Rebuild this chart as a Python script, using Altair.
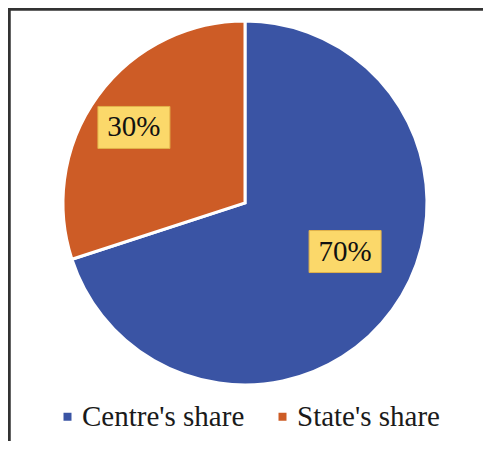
import altair as alt
import pandas as pd
import math

# ---- data ----
categories = ["Centre's share", "State's share"]
values = [70, 30]
labels = ["70%", "30%"]
colors = ["#3A54A4", "#CD5C26"]

# ---- layout / style constants (pixels, view coordinates) ----
W, H = 475, 433
CX, CY = 237, 195
R = 182
LABEL_R = 120
NUDGE = {"Centre's share": (3, -22), "State's share": (-14, -5)}
BOX_HW, BOX_HH = 36, 21
FONT = "Liberation Serif"

df = pd.DataFrame({
    "category": categories,
    "value": values,
    "label": labels,
    "order": list(range(len(categories))),
})
total = sum(values)
cum = 0
mids = []
for v in values:
    mids.append((cum + v / 2) / total * 2 * math.pi)
    cum += v
df["lx"] = [CX + LABEL_R * math.sin(m) + NUDGE[c][0] for m, c in zip(mids, categories)]
df["ly"] = [CY - LABEL_R * math.cos(m) + NUDGE[c][1] for m, c in zip(mids, categories)]
df["x0"] = df["lx"] - BOX_HW
df["x1"] = df["lx"] + BOX_HW
df["y0"] = df["ly"] - BOX_HH
df["y1"] = df["ly"] + BOX_HH

xs = alt.Scale(domain=[0, W], range=[0, W], nice=False, zero=False)
ys = alt.Scale(domain=[0, H], range=[0, H], nice=False, zero=False)

base = alt.Chart(df)

pie = base.mark_arc(outerRadius=R, stroke="white", strokeWidth=3).encode(
    theta=alt.Theta("value:Q", stack=True),
    order=alt.Order("order:Q"),
    color=alt.Color(
        "category:N",
        scale=alt.Scale(domain=categories, range=colors),
        sort=categories,
        legend=alt.Legend(
            title=None,
            orient="none",
            legendX=45,
            legendY=394,
            direction="horizontal",
            symbolType="square",
            symbolSize=64,
            symbolStrokeWidth=0,
            labelFont=FONT,
            labelFontSize=29,
            labelColor="#1a1a1a",
            labelOffset=0,
            columnPadding=23,
            padding=0,
            labelLimit=400,
        ),
    ),
    x=alt.value(CX),
    y=alt.value(CY),
)

boxes = base.mark_rect(fill="#FBD86A", stroke="#E2B24A", strokeWidth=1).encode(
    x=alt.X("x0:Q", scale=xs, axis=None),
    x2="x1:Q",
    y=alt.Y("y0:Q", scale=ys, axis=None),
    y2="y1:Q",
)

texts = base.mark_text(font=FONT, fontSize=29, color="#111111", baseline="middle", align="center").encode(
    x=alt.X("lx:Q", scale=xs, axis=None),
    y=alt.Y("ly:Q", scale=ys, axis=None),
    text="label:N",
)

top_rule = alt.Chart(df).mark_rule(color="#333333", strokeWidth=3).encode(
    x=alt.value(0), x2=alt.value(W), y=alt.value(1)
)
left_rule = alt.Chart(df).mark_rule(color="#333333", strokeWidth=3).encode(
    x=alt.value(1), y=alt.value(0), y2=alt.value(H)
)

chart = alt.layer(pie, boxes, texts, top_rule, left_rule).properties(
    width=W, height=H, autosize=alt.AutoSizeParams(type="none"), padding=0
).configure_view(stroke=None).configure(background="white")

chart.save("out.html", embed_options={"renderer": "svg", "actions": False})
